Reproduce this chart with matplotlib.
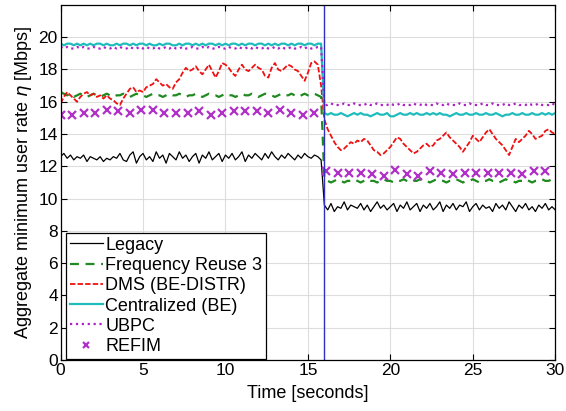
import numpy as np
import matplotlib
matplotlib.use("Agg")
import matplotlib.pyplot as plt

plt.rcParams['font.family'] = ['Liberation Sans', 'DejaVu Sans']
plt.rcParams['mathtext.fontset'] = 'dejavusans'

# time grid, 0.2 s steps from 0 to 30 s
t = np.linspace(0, 30, 151)
t_switch = 16.0

legacy = [
    12.6, 12.8, 12.5, 12.7, 12.4, 12.6, 12.5, 12.7, 12.3, 12.6,
    12.5, 12.4, 12.6, 12.3, 12.5, 12.4, 12.6, 12.5, 12.8, 12.4,
    12.3, 12.7, 12.9, 12.2, 12.6, 12.8, 12.4, 12.6, 12.3, 12.9,
    12.5, 12.7, 12.2, 12.8, 12.6, 12.4, 12.9, 12.5, 12.7, 12.3,
    12.6, 12.8, 12.2, 12.7, 12.5, 12.9, 12.4, 12.6, 12.8, 12.3,
    12.7, 12.5, 12.8, 12.4, 12.6, 12.9, 12.3, 12.7, 12.5, 12.8,
    12.6, 12.4, 12.8, 12.5, 12.9, 12.6, 12.4, 12.7, 12.5, 12.8,
    12.6, 12.4, 12.7, 12.5, 12.8, 12.6, 12.5, 12.7, 12.6, 12.4,
    9.6, 9.3, 9.7, 9.2, 9.5, 9.4, 9.8, 9.3, 9.6, 9.5,
    9.4, 9.7, 9.3, 9.6, 9.2, 9.5, 9.8, 9.4, 9.6, 9.3,
    9.5, 9.7, 9.2, 9.6, 9.4, 9.8, 9.3, 9.5, 9.7, 9.2,
    9.6, 9.4, 9.7, 9.3, 9.5, 9.8, 9.2, 9.6, 9.4, 9.7,
    9.3, 9.6, 9.5, 9.8, 9.2, 9.5, 9.7, 9.3, 9.6, 9.4,
    9.5, 9.2, 9.7, 9.4, 9.6, 9.3, 9.8, 9.5, 9.2, 9.6,
    9.4, 9.7, 9.3, 9.5, 9.2, 9.6, 9.4, 9.7, 9.3, 9.5,
    9.3,
]

reuse3 = [
    16.6, 16.5, 16.4, 16.5, 16.3, 16.4, 16.5, 16.4, 16.3, 16.4,
    16.5, 16.4, 16.3, 16.4, 16.5, 16.4, 16.3, 16.4, 16.4, 16.5,
    16.4, 16.3, 16.4, 16.5, 16.4, 16.4, 16.3, 16.4, 16.5, 16.4,
    16.4, 16.3, 16.4, 16.5, 16.4, 16.4, 16.5, 16.4, 16.3, 16.4,
    16.4, 16.5, 16.4, 16.3, 16.4, 16.5, 16.4, 16.4, 16.3, 16.4,
    16.5, 16.4, 16.4, 16.3, 16.4, 16.5, 16.4, 16.4, 16.5, 16.4,
    16.3, 16.4, 16.5, 16.4, 16.4, 16.3, 16.4, 16.5, 16.4, 16.4,
    16.5, 16.4, 16.3, 16.4, 16.5, 16.4, 16.4, 16.5, 16.4, 16.3,
    11.2, 11.1, 11.0, 11.1, 11.2, 11.1, 11.0, 11.1, 11.1, 11.2,
    11.1, 11.0, 11.1, 11.2, 11.1, 11.1, 11.0, 11.1, 11.2, 11.1,
    11.1, 11.0, 11.1, 11.1, 11.2, 11.1, 11.0, 11.1, 11.1, 11.2,
    11.1, 11.1, 11.0, 11.1, 11.2, 11.1, 11.1, 11.0, 11.1, 11.1,
    11.2, 11.1, 11.0, 11.1, 11.1, 11.2, 11.1, 11.0, 11.1, 11.1,
    11.2, 11.1, 11.1, 11.0, 11.1, 11.2, 11.1, 11.1, 11.0, 11.1,
    11.1, 11.2, 11.1, 11.0, 11.1, 11.1, 11.2, 11.1, 11.1, 11.2,
    11.1,
]

dms = [
    15.9, 16.3, 16.6, 16.4, 16.2, 16.0, 16.3, 16.5, 16.6, 16.4,
    16.5, 16.3, 16.4, 16.2, 16.4, 16.2, 16.1, 15.9, 15.8, 16.2,
    16.5, 16.8, 16.9, 16.6, 16.7, 16.6, 16.9, 17.0, 17.1, 17.4,
    17.2, 17.0, 17.1, 16.9, 16.8, 17.2, 17.4, 17.8, 18.1, 17.9,
    18.0, 18.2, 17.9, 17.7, 18.0, 18.3, 17.9, 17.5, 17.9, 18.4,
    18.3, 18.1, 17.8, 17.6, 18.0, 18.3, 18.0, 17.9, 18.1, 18.3,
    18.1, 18.0, 17.6, 17.5, 18.1, 18.4, 18.0, 17.9, 18.1, 18.3,
    18.2, 18.0, 17.9, 17.6, 17.3, 17.8, 18.4, 18.5, 18.3, 17.0,
    14.9, 14.3, 13.9, 13.5, 13.2, 13.0, 13.1, 13.3, 13.5, 13.4,
    13.6, 13.5, 13.7, 13.6, 13.3, 13.0, 12.9, 12.7, 12.8, 13.0,
    13.2, 13.5, 13.8, 13.7, 13.4, 13.2, 13.0, 12.8, 12.9, 13.1,
    13.3, 13.4, 13.2, 13.3, 13.6, 13.7, 13.9, 14.1, 13.8, 13.6,
    13.4, 13.2, 12.9, 13.2, 13.5, 13.9, 13.7, 13.5, 13.8, 14.1,
    14.3, 14.0, 13.7, 13.5, 13.3, 13.0, 12.7, 13.2, 13.7, 13.5,
    13.7, 13.9, 14.2, 14.0, 13.7, 13.8, 13.9, 14.2, 14.3, 14.1,
    14.0,
]

centralized = [
    19.6, 19.5, 19.6, 19.6, 19.5, 19.6, 19.5, 19.6, 19.5, 19.6,
    19.5, 19.6, 19.6, 19.5, 19.6, 19.5, 19.5, 19.6, 19.5, 19.6,
    19.6, 19.5, 19.6, 19.5, 19.6, 19.6, 19.5, 19.6, 19.5, 19.5,
    19.6, 19.5, 19.6, 19.6, 19.5, 19.5, 19.6, 19.5, 19.6, 19.6,
    19.5, 19.6, 19.5, 19.6, 19.5, 19.6, 19.6, 19.5, 19.6, 19.5,
    19.6, 19.5, 19.6, 19.6, 19.5, 19.6, 19.5, 19.6, 19.6, 19.5,
    19.6, 19.6, 19.5, 19.6, 19.5, 19.6, 19.5, 19.6, 19.6, 19.5,
    19.6, 19.5, 19.6, 19.6, 19.5, 19.6, 19.6, 19.5, 19.6, 19.6,
    15.3, 15.2, 15.3, 15.2, 15.2, 15.3, 15.2, 15.1, 15.2, 15.3,
    15.2, 15.3, 15.2, 15.2, 15.1, 15.2, 15.3, 15.2, 15.2, 15.3,
    15.1, 15.1, 15.2, 15.3, 15.2, 15.2, 15.3, 15.2, 15.3, 15.2,
    15.2, 15.3, 15.2, 15.3, 15.2, 15.3, 15.2, 15.2, 15.1, 15.2,
    15.3, 15.2, 15.2, 15.3, 15.2, 15.2, 15.3, 15.2, 15.2, 15.3,
    15.2, 15.2, 15.3, 15.2, 15.1, 15.2, 15.2, 15.3, 15.2, 15.2,
    15.3, 15.2, 15.2, 15.3, 15.2, 15.2, 15.3, 15.2, 15.3, 15.2,
    15.3,
]

ubpc = [
    19.4, 19.3, 19.4, 19.3, 19.3, 19.4, 19.3, 19.4, 19.3, 19.3,
    19.4, 19.3, 19.3, 19.4, 19.3, 19.3, 19.4, 19.3, 19.4, 19.3,
    19.3, 19.4, 19.3, 19.3, 19.4, 19.3, 19.4, 19.3, 19.3, 19.4,
    19.3, 19.3, 19.4, 19.3, 19.4, 19.3, 19.3, 19.4, 19.3, 19.3,
    19.4, 19.3, 19.3, 19.4, 19.3, 19.4, 19.3, 19.3, 19.4, 19.3,
    19.3, 19.4, 19.3, 19.3, 19.4, 19.3, 19.3, 19.4, 19.3, 19.4,
    19.3, 19.3, 19.4, 19.3, 19.3, 19.4, 19.3, 19.4, 19.3, 19.3,
    19.4, 19.3, 19.3, 19.4, 19.3, 19.4, 19.3, 19.3, 19.4, 19.4,
    15.8, 15.8, 15.9, 15.8, 15.8, 15.8, 15.9, 15.8, 15.8, 15.9,
    15.8, 15.8, 15.8, 15.9, 15.8, 15.8, 15.9, 15.8, 15.8, 15.8,
    15.9, 15.8, 15.8, 15.9, 15.8, 15.8, 15.8, 15.9, 15.8, 15.8,
    15.9, 15.8, 15.8, 15.8, 15.9, 15.8, 15.8, 15.9, 15.8, 15.8,
    15.8, 15.9, 15.8, 15.8, 15.9, 15.8, 15.8, 15.8, 15.9, 15.8,
    15.8, 15.9, 15.8, 15.8, 15.8, 15.9, 15.8, 15.8, 15.9, 15.8,
    15.8, 15.8, 15.9, 15.8, 15.8, 15.9, 15.8, 15.8, 15.8, 15.9,
    15.8,
]

# REFIM is only shown as markers, every 0.7 s
t_refim = np.arange(43) * 0.7
refim = [
    15.2, 15.2, 15.3, 15.3, 15.5, 15.4, 15.3, 15.5, 15.5, 15.3,
    15.3, 15.3, 15.4, 15.2, 15.3, 15.4, 15.4, 15.4, 15.3, 15.5,
    15.3, 15.2, 15.3,
    11.7, 11.6, 11.6, 11.6, 11.5, 11.4, 11.8, 11.5, 11.4, 11.7,
    11.6, 11.5, 11.6, 11.6, 11.6, 11.6, 11.6, 11.5, 11.7, 11.7,
]

fig = plt.figure(figsize=(5.66, 4.11), dpi=100)
ax = fig.add_axes([0.107, 0.124, 0.874, 0.864])

ax.plot(t, legacy, color='black', lw=0.9, label='Legacy')
ax.plot(t, reuse3, color='#1f8a1f', lw=1.6, dashes=(4, 3), label='Frequency Reuse 3')
ax.plot(t, dms, color='#ee1111', lw=1.3, dashes=(3, 1.2), label='DMS (BE-DISTR)')
ax.plot(t, centralized, color='#20bcbc', lw=1.6, label='Centralized (BE)')
ax.plot(t, ubpc, color='#b020c8', lw=1.6, linestyle=':', label='UBPC')
ax.plot(t_refim, refim, linestyle='none', marker='x', ms=5.5, mew=1.6,
        color='#b030c8', label='REFIM')
ax.axvline(t_switch, color='#3030c0', lw=1.0)

ax.set_xlim(0, 30)
ax.set_ylim(0, 22)
ax.set_xticks(np.arange(0, 31, 5))
ax.set_yticks(np.arange(0, 21, 2))
ax.grid(True, color='#dddddd', lw=0.8)
ax.set_axisbelow(True)
ax.tick_params(direction='in', top=True, right=True, labelsize=12.5, length=4, pad=2)
for s in ax.spines.values():
    s.set_linewidth(0.9)

ax.set_xlabel('Time [seconds]', fontsize=13, labelpad=5)
ax.set_ylabel(r'Aggregate minimum user rate $\eta$ [Mbps]', fontsize=13, labelpad=3)

leg = ax.legend(loc='lower left', bbox_to_anchor=(0.012, 0.004), fontsize=13,
                frameon=True, fancybox=False, edgecolor='black', framealpha=1,
                borderpad=0.2, labelspacing=0.18, handlelength=1.8,
                handletextpad=0.15, borderaxespad=0, markerscale=0.7)
leg.get_frame().set_linewidth(0.9)

fig.savefig('out.png', dpi=100)
